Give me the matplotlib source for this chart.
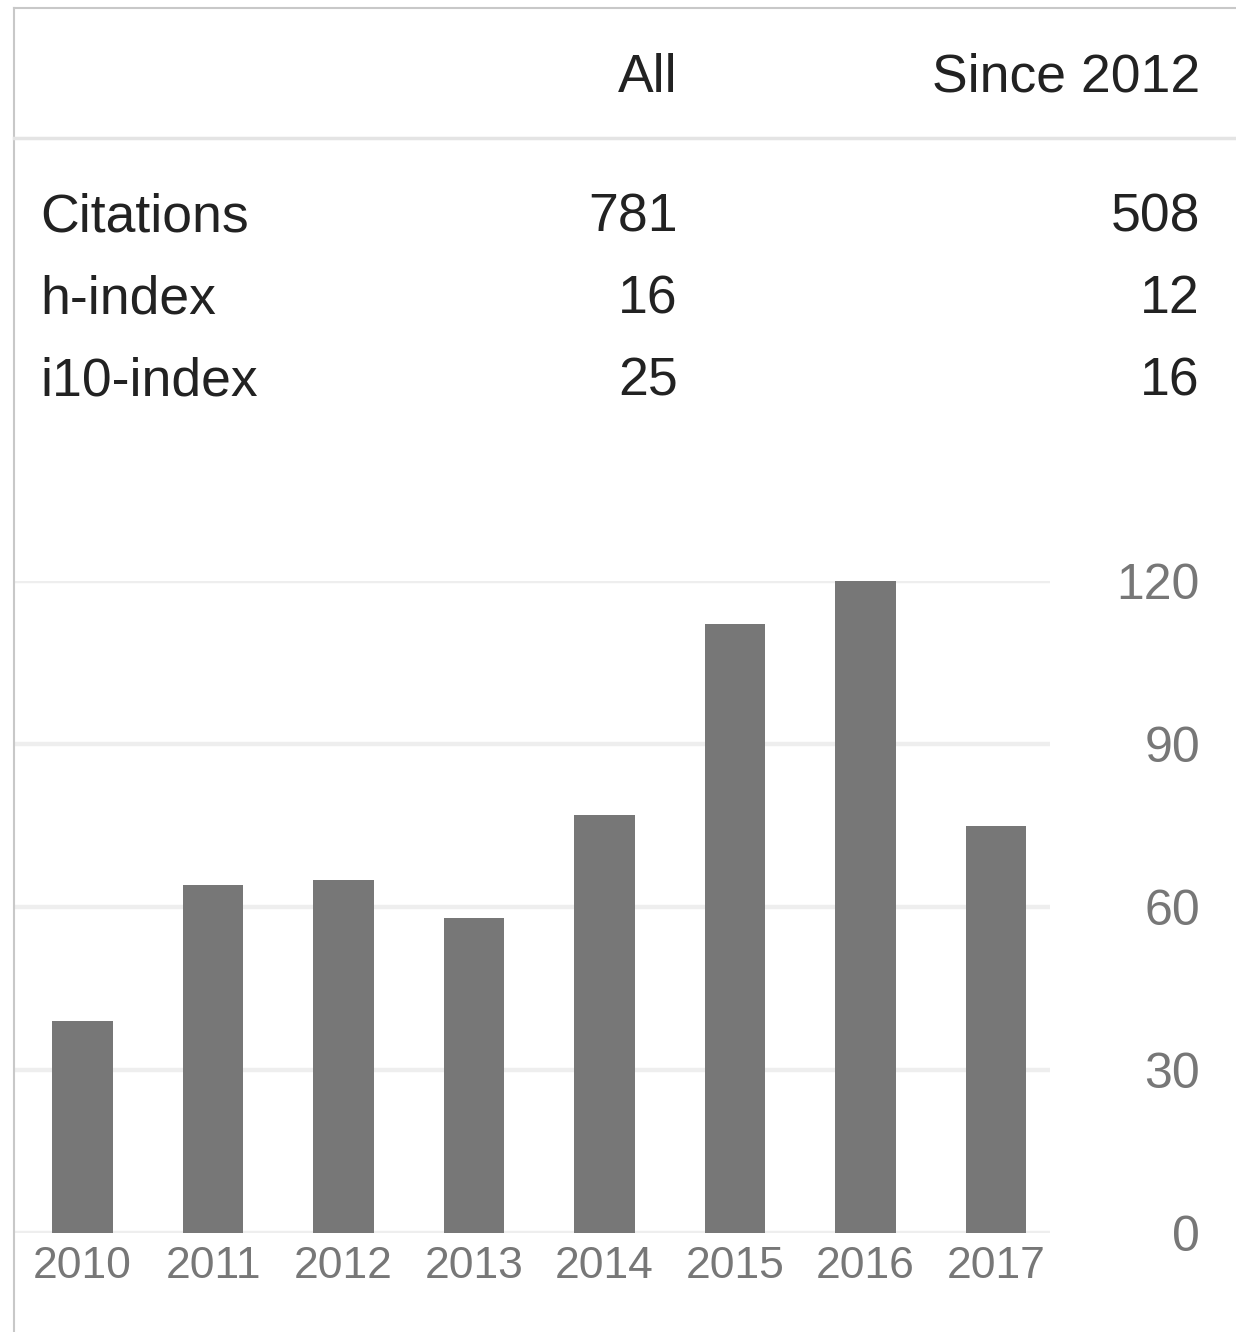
import matplotlib.pyplot as plt
from matplotlib.lines import Line2D

plt.rcParams['font.family'] = ['Liberation Sans', 'DejaVu Sans']

# citation table
col_headers = ['All', 'Since 2012']
row_names = ['Citations', 'h-index', 'i10-index']
all_values = ['781', '16', '25']
since_values = ['508', '12', '16']

# citations per year
years = ['2010', '2011', '2012', '2013', '2014', '2015', '2016', '2017']
citations = [39, 64, 65, 58, 77, 112, 120, 75]
y_ticks = [0, 30, 60, 90, 120]

W, H = 1236, 1332
fig = plt.figure(figsize=(W / 100, H / 100), dpi=100)


def fx(px):
    return px / W


def fy(py):
    return 1 - py / H


# frame lines
fig.add_artist(Line2D([fx(14), 1], [fy(8), fy(8)], color='#c8c8c8', lw=1.5))
fig.add_artist(Line2D([fx(14), fx(14)], [fy(8), 0], color='#c8c8c8', lw=1.5))
fig.add_artist(Line2D([fx(14), 1], [fy(138), fy(138)], color='#e4e4e4', lw=2.5))

txt = '#222222'
fs = 38.5
fig.text(fx(678), fy(92), col_headers[0], ha='right', va='baseline', fontsize=fs, color=txt)
fig.text(fx(1200), fy(92), col_headers[1], ha='right', va='baseline', fontsize=fs, color=txt)

baselines = [232, 313, 395]
for name, a, s, b in zip(row_names, all_values, since_values, baselines):
    fig.text(fx(40), fy(b), name, ha='left', va='baseline', fontsize=fs, color=txt)
    fig.text(fx(678), fy(b), a, ha='right', va='baseline', fontsize=fs, color=txt)
    fig.text(fx(1200), fy(b), s, ha='right', va='baseline', fontsize=fs, color=txt)

# bar chart
ax = fig.add_axes([fx(14), fy(1233), fx(1050) - fx(14), fy(581) - fy(1233)])
x = range(len(years))
ax.bar(x, citations, width=0.467, color='#777777', zorder=3)
ax.set_xlim(-0.525, 7.414)
ax.set_ylim(0, 120)
ax.set_yticks(y_ticks)
ax.set_xticks(list(x))
ax.set_xticklabels(years)
ax.grid(axis='y', color='#eeeeee', lw=3.2, zorder=0)
ax.set_axisbelow(True)
for sp in ax.spines.values():
    sp.set_visible(False)
ax.yaxis.tick_right()
ax.tick_params(axis='y', length=0, pad=108, labelsize=36, labelcolor='#777777')
ax.tick_params(axis='x', length=0, pad=9, labelsize=32, labelcolor='#777777')
for lab in ax.get_yticklabels():
    lab.set_horizontalalignment('right')

fig.savefig('out.png', dpi=100, facecolor='white')
